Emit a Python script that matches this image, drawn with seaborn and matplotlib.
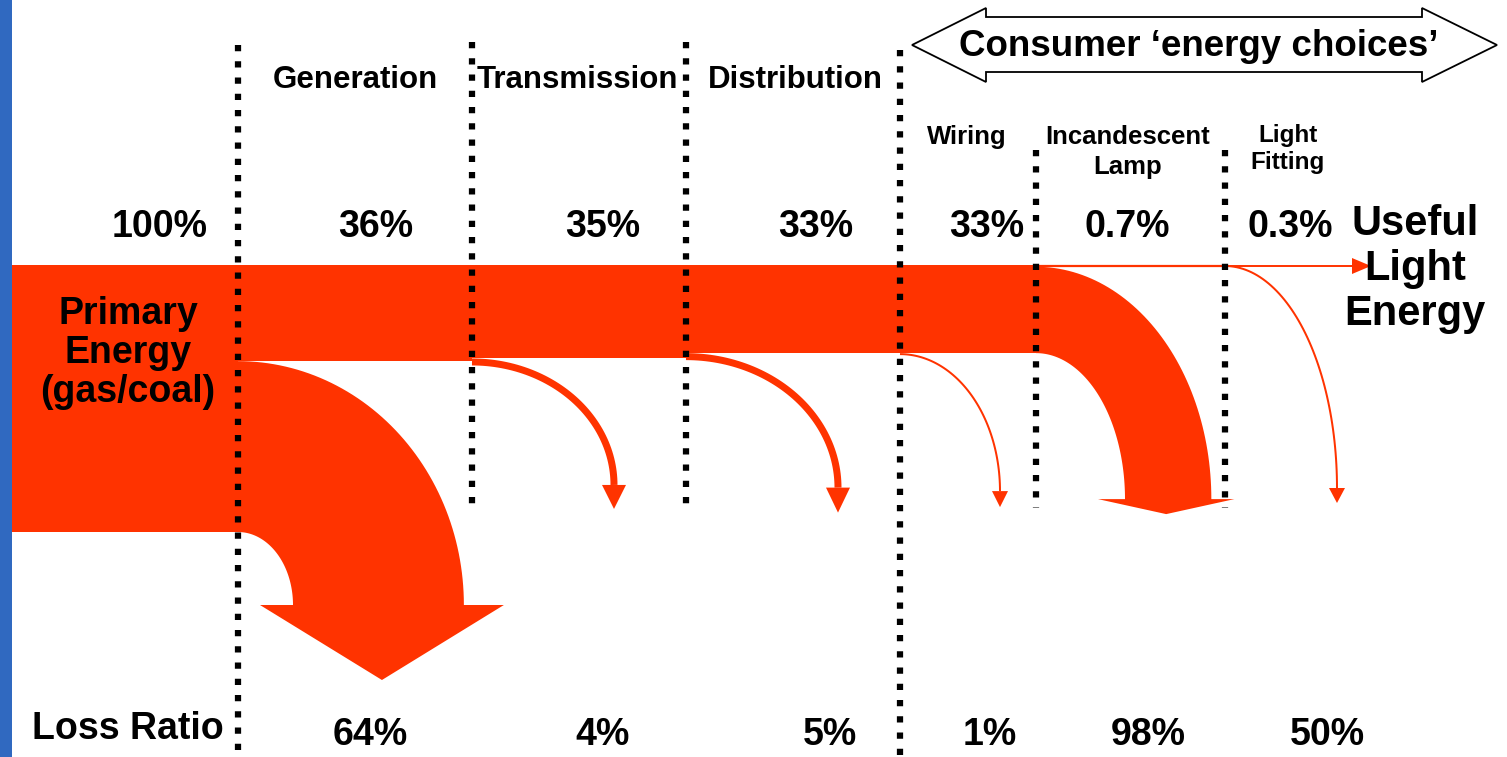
import numpy as np
import matplotlib.pyplot as plt
import seaborn as sns
from matplotlib.patches import Polygon

# ---- data -------------------------------------------------------------
stages = ["Generation", "Transmission", "Distribution",
          "Wiring", "Incandescent\nLamp", "Light\nFitting"]
flow_labels = ["100%", "36%", "35%", "33%", "33%", "0.7%", "0.3%"]
flow_values = [100, 36, 35, 33, 33, 0.7, 0.3]
loss_labels = ["64%", "4%", "5%", "1%", "98%", "50%"]
loss_ratio = [64, 4, 5, 1, 98, 50]

# ---- layout (pixel coordinates) -------------------------------------------
W, H = 1507, 757
RED = "#ff3300"
BLUE = "#3069c0"
band_left = 12
band_top = 265
px_per_pct = 2.67
bounds = [238, 472, 686, 900, 1036, 1225]
bound_span = [(45, 757), (42, 505), (42, 505), (50, 757), (150, 508), (150, 508)]
head_x = [355, 577, 795, 967, 1128, 1288]
head_y = [80, 80, 80, 137, 152, 149]
head_size = [22.5, 22.5, 22.5, 18.5, 18.5, 17.5]
head_spacing = [1.1, 1.1, 1.1, 1.1, 1.3, 1.25]
pct_x = [160, 376, 603, 816, 987, 1127, 1290]
loss_x = [370, 603, 830, 990, 1148, 1327]

sns.set_theme(style="white")
plt.rcParams["font.family"] = ["Liberation Sans", "DejaVu Sans"]
plt.rcParams["text.color"] = "black"

fig = plt.figure(figsize=(W / 100, H / 100), dpi=100)
ax = fig.add_axes([0, 0, 1, 1])
ax.set_xlim(0, W)
ax.set_ylim(H, 0)
ax.axis("off")

# blue edge strip
ax.axvspan(0, band_left, color=BLUE, lw=0)

# main band, stepping down at every stage boundary
edges = [band_left] + bounds[:5]
heights = [v * px_per_pct for v in flow_values[:5]]
heights = heights + heights[-1:]
ax.fill_between(edges, band_top, [band_top + h for h in heights],
                step="post", color=RED, lw=0)


def quarter(x0, yc, rx, ry, n=60):
    t = np.linspace(0, np.pi / 2, n)
    return x0 + rx * np.sin(t), yc - ry * np.cos(t)


def big_loss(x0, y_bot, w, rx_in, ry_in, ext_l, ext_r, hlen):
    y_end = y_bot + ry_in
    ox, oy = quarter(x0, y_end, rx_in + w, ry_in + w)
    ix, iy = quarter(x0, y_end, rx_in, ry_in)
    left = x0 + rx_in - ext_l
    right = x0 + rx_in + w + ext_r
    pts = list(zip(ox, oy))
    pts += [(right, y_end), ((left + right) / 2, y_end + hlen), (left, y_end)]
    pts += list(zip(ix[::-1], iy[::-1]))
    ax.add_patch(Polygon(pts, closed=True, color=RED, lw=0))


def thin_loss(x0, y0, rx, ry, lw, hw, hl):
    xs, ys = quarter(x0, y0 + ry, rx, ry)
    ax.plot(xs, ys, color=RED, lw=lw * 0.72, solid_capstyle="butt")
    xe, ye = xs[-1], ys[-1]
    ax.add_patch(Polygon([(xe - hw, ye), (xe + hw, ye), (xe, ye + hl)],
                         closed=True, color=RED, lw=0))


# generation loss (64 % of primary)
gen_loss = flow_values[0] * loss_ratio[0] / 100
big_loss(bounds[0], band_top + flow_values[0] * px_per_pct,
         gen_loss * px_per_pct, 55, 73, 33, 40, 75)

# lamp loss (98 % of what reaches the lamp)
lamp_loss = flow_values[4] * loss_ratio[4] / 100
big_loss(bounds[4], band_top + flow_values[4] * px_per_pct,
         lamp_loss * px_per_pct, 89, 146, 27, 23, 15)

# small losses drawn as curved arrows
thin_loss(bounds[1], band_top + flow_values[2] * px_per_pct + 3.5, 142, 123, 7, 12, 24)
thin_loss(bounds[2], band_top + flow_values[3] * px_per_pct + 3.5, 152, 131, 7, 12, 25)
thin_loss(bounds[3], band_top + flow_values[4] * px_per_pct + 1, 100, 137, 2, 8, 16)
thin_loss(bounds[5], band_top + 1, 112, 222, 2, 8, 15)

# light leaving the lamp and the fitting
ax.plot([bounds[4], bounds[5]], [band_top + 1, band_top + 1], color=RED, lw=1.6)
ax.plot([bounds[5], 1354], [band_top + 1, band_top + 1], color=RED, lw=1.4)
ax.add_patch(Polygon([(1352, band_top - 7), (1352, band_top + 9), (1371, band_top + 1)],
                     closed=True, color=RED, lw=0))

# dotted stage boundaries
for x, (y0, y1) in zip(bounds, bound_span):
    ax.plot([x, x], [y0, y1], color="black", lw=4.5,
            linestyle=(0, (1, 1.6)), zorder=5)

# consumer double arrow
arrow = [(912, 45), (986, 8), (986, 17), (1422, 17), (1422, 8), (1497, 45),
         (1422, 82), (1422, 72), (986, 72), (986, 82)]
ax.add_patch(Polygon(arrow, closed=True, facecolor="white",
                     edgecolor="black", lw=1.3, zorder=6))
ax.text(1199, 47, "Consumer \u2018energy choices\u2019", fontsize=26.5,
        fontweight="bold", ha="center", va="center", zorder=7)

# stage headings
for s, x, y, fs, sp in zip(stages, head_x, head_y, head_size, head_spacing):
    ax.text(x, y, s, fontsize=fs, fontweight="bold", ha="center",
            va="center", linespacing=sp)

# flow percentages
for lab, x in zip(flow_labels, pct_x):
    ax.text(x, 227, lab, fontsize=27, fontweight="bold", ha="center", va="center")

# loss ratios
ax.text(128, 729, "Loss Ratio", fontsize=27, fontweight="bold",
        ha="center", va="center")
for lab, x in zip(loss_labels, loss_x):
    ax.text(x, 735, lab, fontsize=27, fontweight="bold", ha="center", va="center")

ax.text(128, 353, "Primary\nEnergy\n(gas/coal)", fontsize=27, fontweight="bold",
        ha="center", va="center", linespacing=1.12)
ax.text(1415, 269, "Useful\nLight\nEnergy", fontsize=30, fontweight="bold",
        ha="center", va="center", linespacing=1.17)

fig.savefig("out.png", dpi=100, facecolor="white")
